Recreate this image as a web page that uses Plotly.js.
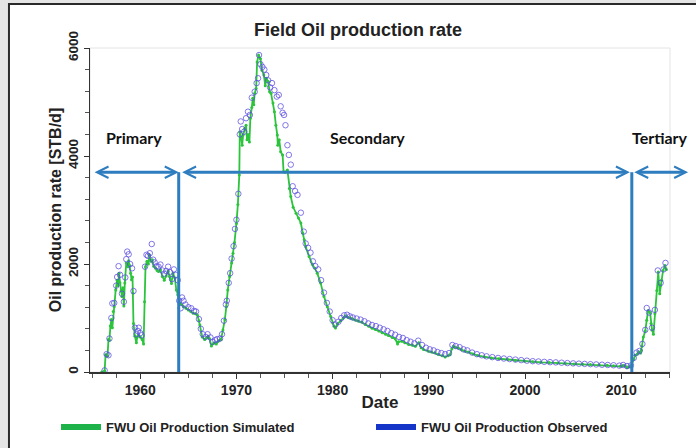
<!DOCTYPE html>
<html>
<head>
<meta charset="utf-8">
<script src="https://cdn.plot.ly/plotly-3.0.1.min.js"></script>
<style>
html,body{margin:0;padding:0;background:#e5e5e5;overflow:hidden;}
#chart{width:696px;height:448px;}
</style>
</head>
<body>
<div id="chart"></div>
<script>
// Simulated field oil production (year, STB/d)
const simYears = [1956.0,1956.3,1956.4,1956.6,1956.7,1956.8,1956.9,1957.0,1957.1,1957.2,1957.3,1957.45,1957.6,1957.7,1957.8,1957.9,1958.0,1958.1,1958.2,1958.3,1958.4,1958.55,1958.7,1958.8,1958.9,1959.0,1959.1,1959.2,1959.25,1959.3,1959.45,1959.6,1959.7,1959.8,1960.0,1960.2,1960.35,1960.45,1960.55,1960.7,1960.85,1960.95,1961.1,1961.25,1961.4,1961.6,1961.75,1961.9,1962.1,1962.3,1962.5,1962.7,1962.9,1963.05,1963.25,1963.4,1963.6,1963.75,1963.9,1964.0,1964.1,1964.3,1964.5,1964.75,1965.0,1965.25,1965.5,1965.75,1965.95,1966.1,1966.2,1966.45,1966.7,1966.9,1967.05,1967.2,1967.4,1967.6,1967.75,1967.9,1968.1,1968.25,1968.4,1968.6,1968.8,1968.95,1969.1,1969.3,1969.5,1969.65,1969.8,1970.0,1970.15,1970.3,1970.35,1970.5,1970.6,1970.7,1970.85,1971.0,1971.1,1971.2,1971.35,1971.45,1971.6,1971.7,1971.8,1971.9,1972.05,1972.15,1972.3,1972.5,1972.65,1972.85,1973.0,1973.1,1973.3,1973.45,1973.6,1973.8,1973.95,1974.1,1974.25,1974.3,1974.45,1974.6,1974.8,1974.9,1975.05,1975.3,1975.5,1975.65,1975.9,1976.2,1976.45,1976.7,1976.9,1977.05,1977.2,1977.55,1977.9,1978.15,1978.4,1978.75,1979.1,1979.45,1979.8,1980.0,1980.15,1980.3,1980.5,1980.85,1981.1,1981.35,1981.6,1981.85,1982.1,1982.4,1982.7,1983.05,1983.4,1983.75,1984.1,1984.45,1984.8,1985.15,1985.5,1985.8,1986.2,1986.5,1986.75,1986.85,1987.2,1987.5,1987.9,1988.3,1988.6,1988.95,1989.2,1989.45,1989.95,1990.3,1990.65,1991.0,1991.4,1991.7,1992.0,1992.2,1992.4,1992.55,1992.8,1993.05,1993.4,1993.75,1994.1,1994.6,1995.1,1995.8,1996.5,1997.3,1998.2,1999.0,1999.95,2000.8,2001.65,2002.5,2003.4,2004.2,2005.1,2006.0,2006.8,2007.7,2008.55,2009.2,2009.9,2010.2,2010.4,2010.6,2010.8,2011.0,2011.1,2011.3,2011.45,2011.65,2011.8,2012.0,2012.1,2012.15,2012.3,2012.5,2012.65,2012.8,2013.0,2013.1,2013.2,2013.35,2013.5,2013.7,2013.85,2014.0,2014.1,2014.2,2014.35,2014.55,2014.7];
const simRates = [0,20,320,290,600,590,850,970,820,1120,1210,1520,1700,1600,1830,1650,1500,1400,1560,1220,1650,2020,1950,2060,1970,1830,1710,1760,1460,900,660,540,650,680,650,600,520,1300,1950,2050,2000,2170,2050,2080,1960,1920,1880,1860,1900,1770,1700,1780,1870,1770,1640,1830,1740,1520,1430,1390,1280,1250,1210,1180,1150,1120,1090,1080,1050,950,870,650,600,640,660,620,480,530,540,520,570,590,600,780,970,1210,1520,1770,2020,2200,2400,2750,3100,3650,4450,4340,4200,4390,4510,4570,4300,4400,4260,4700,4900,5070,4950,5160,5250,5740,5870,5800,5590,5500,5300,5440,5380,5190,5160,4980,4820,4570,4390,4200,4300,4080,4020,3710,3700,3740,3400,3250,3050,2940,2850,2760,2570,2450,2320,2140,1990,1920,1830,1650,1400,1210,1030,910,845,815,890,950,1000,1040,1010,1000,980,960,940,920,880,845,810,785,760,725,700,675,640,615,520,560,570,540,510,495,475,540,450,415,385,370,355,325,300,280,300,320,430,475,455,445,410,385,370,335,305,280,260,245,230,215,200,190,180,175,168,158,150,145,140,132,125,115,105,120,115,80,95,100,140,240,310,330,370,350,405,475,650,760,960,1140,1100,900,780,700,1080,1510,1850,1450,1600,1700,1880,1970,1900];

// Observed field oil production (year, STB/d)
const obsYears = [1956.3,1956.5,1956.7,1956.8,1957.0,1957.1,1957.3,1957.5,1957.6,1957.75,1957.9,1958.1,1958.3,1958.45,1958.55,1958.65,1958.8,1958.95,1959.15,1959.3,1959.45,1959.6,1959.75,1959.85,1960.0,1960.15,1960.5,1960.65,1960.8,1961.0,1961.2,1961.35,1961.5,1961.7,1961.9,1962.1,1962.3,1962.5,1962.7,1962.9,1963.1,1963.3,1963.5,1963.7,1963.9,1964.05,1964.2,1964.35,1964.5,1964.7,1965.0,1965.3,1965.6,1965.8,1966.1,1966.3,1966.5,1966.8,1967.0,1967.3,1967.5,1967.8,1968.0,1968.3,1968.5,1968.7,1968.9,1969.0,1969.2,1969.35,1969.5,1969.7,1969.85,1970.0,1970.2,1970.35,1970.45,1970.6,1970.8,1971.0,1971.2,1971.4,1971.6,1971.9,1972.1,1972.25,1972.35,1972.5,1972.7,1972.9,1973.1,1973.3,1973.5,1973.7,1973.95,1974.2,1974.4,1974.6,1974.8,1974.95,1975.1,1975.3,1975.45,1975.65,1975.85,1976.1,1976.35,1976.7,1977.0,1977.2,1977.45,1977.7,1977.95,1978.2,1978.5,1978.8,1979.1,1979.4,1979.7,1980.0,1980.3,1980.6,1980.9,1981.2,1981.5,1981.8,1982.1,1982.5,1982.9,1983.3,1983.7,1984.1,1984.5,1984.9,1985.3,1985.7,1986.1,1986.5,1986.9,1987.3,1987.7,1988.1,1988.5,1988.9,1989.3,1989.7,1990.1,1990.5,1990.9,1991.3,1991.7,1992.1,1992.45,1992.8,1993.2,1993.6,1994.0,1994.5,1995.0,1995.5,1996.0,1996.6,1997.2,1997.8,1998.4,1999.0,1999.6,2000.2,2000.8,2001.4,2002.0,2002.6,2003.2,2003.8,2004.4,2005.0,2005.6,2006.2,2006.8,2007.4,2008.0,2008.6,2009.2,2009.8,2010.2,2010.6,2011.0,2011.3,2011.6,2011.9,2012.2,2012.5,2012.65,2012.9,2013.2,2013.5,2013.8,2014.1,2014.4,2014.6];
const obsRates = [30,330,310,620,1000,1270,1280,1600,1760,1960,1800,1450,1300,1750,2090,2230,2180,2000,1920,1500,820,700,760,820,720,680,1950,2170,2150,2200,2370,2080,2030,1960,1950,1990,1880,1820,1870,1950,1850,1720,1900,1800,1700,1320,1180,1380,1320,1250,1200,1180,1130,1120,980,800,700,650,700,640,560,590,610,620,700,950,1250,1320,1650,1830,2100,2330,2650,2820,3300,4400,4640,4500,4450,4700,4820,4760,5080,5190,5350,5440,5870,5700,5650,5600,5500,5400,5270,5350,5220,5100,5130,4920,4800,4760,4570,4200,4020,3840,3440,3350,3280,2950,2600,2380,2300,2210,2050,1960,1900,1700,1470,1280,1120,960,880,930,1000,1050,1060,1030,1010,990,970,940,900,870,850,820,790,760,720,690,650,630,590,560,530,580,500,450,420,400,370,350,330,350,500,480,460,420,400,360,330,310,290,275,260,250,240,230,220,210,200,195,188,182,178,172,165,160,155,150,145,140,135,130,125,118,130,110,120,260,360,390,520,780,1185,1100,820,1150,1880,1650,1900,2020];

// Phase boundaries and labels
const phaseNames = ['Primary', 'Secondary', 'Tertiary'];
const phaseLabelX = [1959.4, 1983.6, 2014.0];
const phaseStart = [1955.1, 1964.2, 2011.2];
const phaseEnd = [1964.0, 2010.9, 2016.95];
const boundaryYears = [1964.0, 2011.1];
const arrowLevel = 3700;
const labelLevel = 4350;

const legendNames = ['FWU Oil Production Simulated', 'FWU Oil Production Observed'];

const arrowColor = '#2e7dbf';
const sansFont = 'Liberation Sans, Arial, sans-serif';

const traces = [
  {
    x: simYears, y: simRates, type: 'scatter', mode: 'lines+markers',
    line: {color: '#2cc43c', width: 1.8},
    marker: {color: '#2cc43c', size: 3},
    showlegend: false, hoverinfo: 'skip'
  },
  {
    x: obsYears, y: obsRates, type: 'scatter', mode: 'markers',
    marker: {symbol: 'circle-open', size: 5.5, color: 'rgba(90,75,225,0.75)', line: {width: 1}},
    showlegend: false, hoverinfo: 'skip'
  },
  {
    x: [null], y: [null], type: 'scatter', mode: 'lines', name: legendNames[0],
    line: {color: '#1db24a', width: 6}, legend: 'legend'
  },
  {
    x: [null], y: [null], type: 'scatter', mode: 'lines', name: legendNames[1],
    line: {color: '#1435c8', width: 6}, legend: 'legend2'
  }
];

const annotations = [];
phaseNames.forEach((n, i) => {
  annotations.push({
    x: phaseLabelX[i], y: labelLevel, xref: 'x', yref: 'y', text: n, showarrow: false,
    font: {family: 'Lato, sans-serif', size: 16, color: '#111', weight: 'bold'}
  });
  annotations.push({
    x: phaseEnd[i], y: arrowLevel, ax: phaseStart[i], ay: arrowLevel,
    xref: 'x', yref: 'y', axref: 'x', ayref: 'y', text: '',
    showarrow: true, arrowside: 'end+start', arrowhead: 5, startarrowhead: 5,
    arrowsize: 0.75, startarrowsize: 0.75, arrowwidth: 3, arrowcolor: arrowColor,
    standoff: 0, startstandoff: 0
  });
});

const shapes = [
  {type: 'rect', xref: 'paper', yref: 'paper', x0: -0.1397, x1: 1.3, y0: -0.5, y1: 1.1358,
   fillcolor: '#ffffff', line: {color: '#2a2a2a', width: 2}, layer: 'below'},
  {type: 'rect', xref: 'paper', yref: 'paper', x0: 0, x1: 1, y0: 0, y1: 1,
   fillcolor: 'rgba(0,0,0,0)', line: {color: '#e4e4e4', width: 1}, layer: 'below'}
];
boundaryYears.forEach(b => {
  shapes.push({type: 'line', xref: 'x', yref: 'y', x0: b, x1: b, y0: 0, y1: arrowLevel,
    line: {color: arrowColor, width: 3}});
});

const legendBase = {
  orientation: 'h', xref: 'paper', xanchor: 'left',
  yref: 'container', y: 0.047, yanchor: 'middle', itemwidth: 40,
  bgcolor: 'rgba(0,0,0,0)', borderwidth: 0,
  font: {family: sansFont, size: 13, color: '#222', weight: 'bold'}
};

const layout = {
  width: 696, height: 448,
  margin: {l: 90, r: 26, t: 48, b: 76},
  paper_bgcolor: '#e5e5e5',
  plot_bgcolor: 'rgba(0,0,0,0)',
  font: {family: sansFont, color: '#222'},
  title: {
    text: 'Field Oil production rate', xref: 'paper', x: 0.462, xanchor: 'center',
    yref: 'container', y: 0.933, yanchor: 'middle',
    font: {family: sansFont, size: 18, color: '#222', weight: 'bold'}
  },
  xaxis: {
    range: [1954.78, 2015.07], tick0: 1960, dtick: 10, automargin: 'left+right',
    showgrid: false, zeroline: false, showline: true, linecolor: '#333', linewidth: 1.5,
    ticks: 'outside', ticklen: 5, tickcolor: '#333', tickwidth: 1,
    tickfont: {family: sansFont, size: 14, color: '#222', weight: 'bold'},
    minor: {dtick: 2.5, tick0: 1960, ticks: 'outside', ticklen: 4, tickcolor: '#555', showgrid: false},
    title: {text: 'Date', font: {family: sansFont, size: 17, color: '#222', weight: 'bold'}, standoff: 1}
  },
  yaxis: {
    range: [0, 6000], tick0: 0, dtick: 2000, tickangle: -90, automargin: 'top+bottom',
    showgrid: false, zeroline: false, showline: true, linecolor: '#333', linewidth: 1.5,
    ticks: 'outside', ticklen: 5, tickcolor: '#333', tickwidth: 1,
    tickfont: {family: sansFont, size: 13.5, color: '#222', weight: 'bold'},
    minor: {dtick: 400, tick0: 0, ticks: 'outside', ticklen: 4, tickcolor: '#555', showgrid: false},
    title: {text: 'Oil production rate [STB/d]', font: {family: sansFont, size: 16, color: '#222', weight: 'bold'}, standoff: 0}
  },
  showlegend: true,
  legend: Object.assign({}, legendBase, {x: -0.0586}),
  legend2: Object.assign({}, legendBase, {x: 0.4845}),
  annotations: annotations,
  shapes: shapes
};

Plotly.newPlot('chart', traces, layout, {displayModeBar: false, staticPlot: true});
</script>
</body>
</html>
